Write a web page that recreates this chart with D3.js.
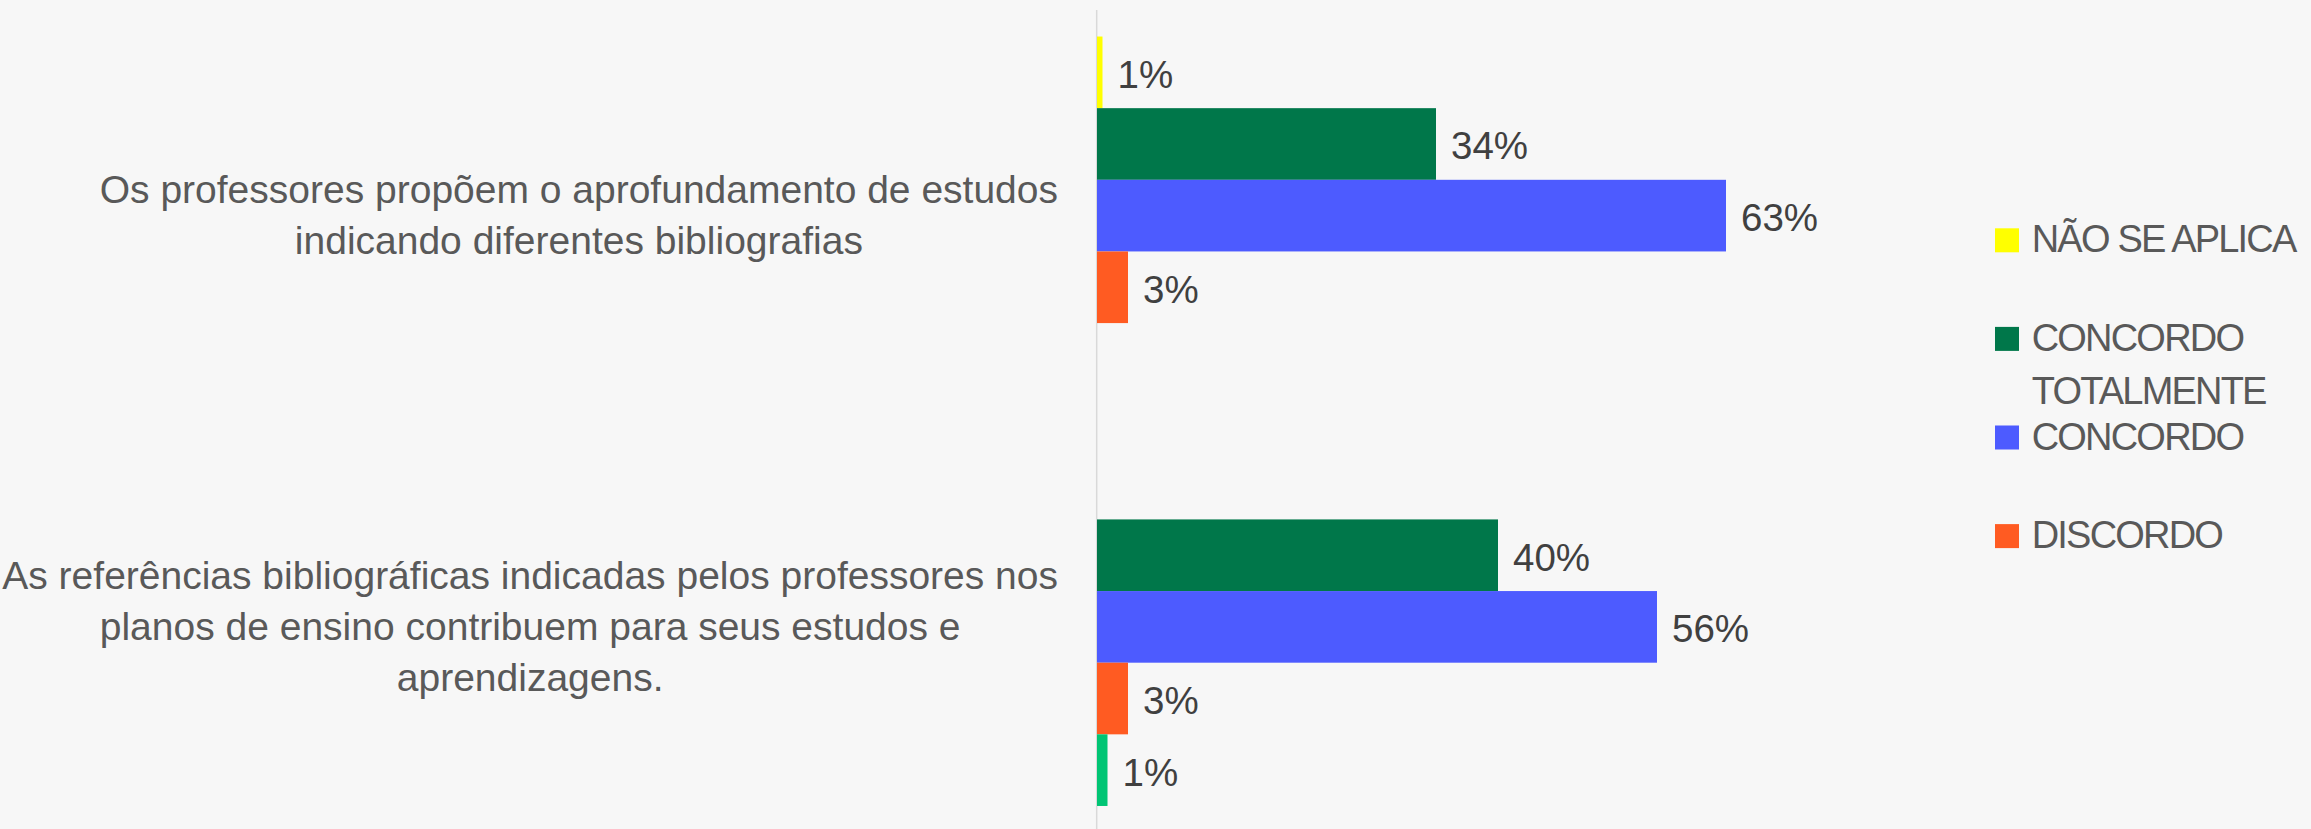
<!DOCTYPE html>
<html>
<head>
<meta charset="utf-8">
<script src="https://cdn.jsdelivr.net/npm/d3@7"></script>
<style>
  html, body { margin: 0; padding: 0; background: #f7f7f7; }
  svg { display: block; }
</style>
</head>
<body>
<script>
// data
var categoryLines = [
  ["Os professores propõem o aprofundamento de estudos", "indicando diferentes bibliografias"],
  ["As referências bibliográficas indicadas pelos professores nos", "planos de ensino contribuem para seus estudos e", "aprendizagens."]
];
var seriesNames = ["NÃO SE APLICA", "CONCORDO TOTALMENTE", "CONCORDO", "DISCORDO", "DISCORDO TOTALMENTE"];
var legendLines = [["NÃO SE APLICA"], ["CONCORDO", "TOTALMENTE"], ["CONCORDO"], ["DISCORDO"]];
var seriesColors = ["#ffff00", "#00774a", "#4d5bff", "#ff5b22", "#00c574"];
// one value per series, null = no bar
var valuesQ1 = [0.55, 33.9, 62.9, 3.1, null];
var valuesQ2 = [null, 40.1, 56.0, 3.1, 1.05];
var labelsQ1 = ["1%", "34%", "63%", "3%", null];
var labelsQ2 = [null, "40%", "56%", "3%", "1%"];

var svgWidth = 2311;
var svgHeight = 829;

var svg = d3.select("body")
  .append("svg")
  .attr("width", svgWidth)
  .attr("height", svgHeight);

svg.append("rect")
  .attr("width", svgWidth)
  .attr("height", svgHeight)
  .attr("fill", "#f7f7f7");

var rows = [
  { lines: categoryLines[0], values: valuesQ1, labels: labelsQ1 },
  { lines: categoryLines[1], values: valuesQ2, labels: labelsQ2 }
];

// scales
var xscale = d3.scaleLinear()
  .domain([0, 70])
  .range([1097, 1797]);

var yscale = d3.scaleBand()
  .domain([0, 1])
  .range([10, 832.5])
  .paddingInner(0.129)
  .paddingOuter(0.0645);

var yinner = d3.scaleBand()
  .domain(d3.range(seriesNames.length))
  .range([0, yscale.bandwidth()]);

// axis line
svg.append("line")
  .attr("x1", xscale(0) - 0.3)
  .attr("x2", xscale(0) - 0.3)
  .attr("y1", 10)
  .attr("y2", svgHeight)
  .attr("stroke", "#d9d9d9")
  .attr("stroke-width", 1.5);

var groups = svg.selectAll("g.row")
  .data(rows)
  .enter()
  .append("g")
  .attr("class", "row")
  .attr("transform", (d, i) => `translate(0, ${yscale(i)})`);

// bars
groups.selectAll("rect")
  .data(d => d.values.map((v, j) => ({ v: v, j: j })).filter(e => e.v != null))
  .enter()
  .append("rect")
  .attr("x", xscale(0))
  .attr("y", e => yinner(e.j))
  .attr("width", e => xscale(e.v) - xscale(0))
  .attr("height", yinner.bandwidth())
  .attr("fill", e => seriesColors[e.j]);

// value labels
groups.selectAll("text.val")
  .data(d => d.values.map((v, j) => ({ v: v, j: j, t: d.labels[j] })).filter(e => e.v != null))
  .enter()
  .append("text")
  .attr("class", "val")
  .attr("x", e => xscale(e.v) + 15)
  .attr("y", e => yinner(e.j) + yinner.bandwidth() / 2 + 15.5)
  .style("font-family", "'Liberation Sans', Arial, sans-serif")
  .style("font-size", "38.5px")
  .attr("fill", "#404040")
  .text(e => e.t);

// category labels: block right aligned to axis, lines centered
var labelRight = 1058;
var lineGap = 51;
groups.each(function(d) {
  var g = d3.select(this);
  var mid = yscale.bandwidth() / 2;
  var n = d.lines.length;
  var txt = g.selectAll("text.cat")
    .data(d.lines)
    .enter()
    .append("text")
    .attr("class", "cat")
    .attr("text-anchor", "middle")
    .attr("y", (l, k) => mid + 13 + (k - (n - 1) / 2) * lineGap)
    .style("font-family", "'Liberation Sans', Arial, sans-serif")
    .style("font-size", "39px")
    .attr("fill", "#595959")
    .text(l => l);
  var maxW = d3.max(txt.nodes(), n => n.getComputedTextLength());
  txt.attr("x", labelRight - maxW / 2);
});

// legend
var legend = svg.append("g");
var items = legend.selectAll("g")
  .data(legendLines)
  .enter()
  .append("g")
  .attr("transform", (d, i) => `translate(1995, ${228.3 + i * 98.6})`);

items.append("rect")
  .attr("width", 24)
  .attr("height", 24)
  .attr("fill", (d, i) => seriesColors[i]);

items.selectAll("text")
  .data(d => d)
  .enter()
  .append("text")
  .attr("x", 36.7)
  .attr("y", (l, k) => 24 + k * 52.7)
  .style("font-family", "'Liberation Sans', Arial, sans-serif")
  .style("font-size", "38px")
  .style("letter-spacing", "-1.8px")
  .attr("fill", "#595959")
  .text(l => l);
</script>
</body>
</html>
